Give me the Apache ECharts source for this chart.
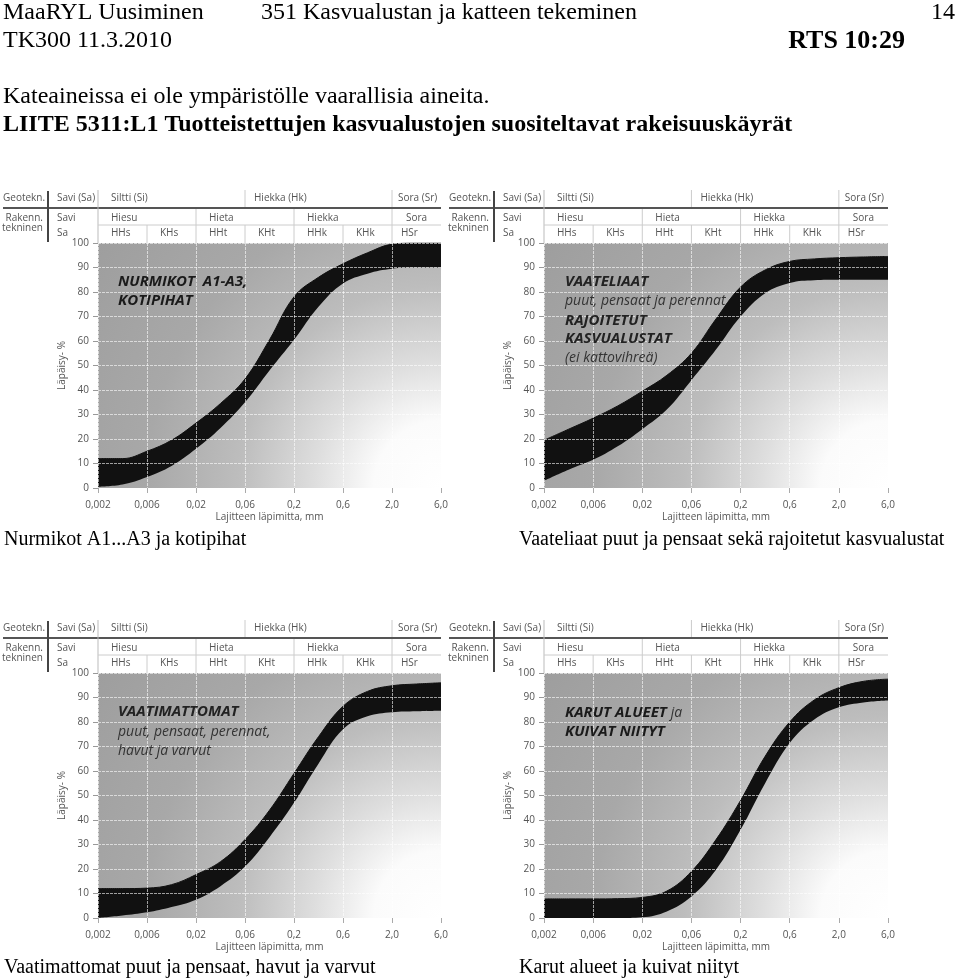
<!DOCTYPE html>
<html><head><meta charset="utf-8">
<script src="https://cdn.jsdelivr.net/npm/echarts@6/dist/echarts.min.js"></script>
<style>html,body{margin:0;padding:0;background:#fff}#c{width:960px;height:979px}</style>
</head><body><div id="c"></div>
<script>
// ---- data ----
const xTickLabels = ['0,002','0,006','0,02','0,06','0,2','0,6','2,0','6,0'];
const xPos = [0,0.5,1,1.5,2,2.5,3,3.5,4,4.5,5,5.5,6,6.5,7];
const p1Upper = [12,12,15,19.5,26.5,34.5,44.5,60.5,78,86,91.5,96,99.5,100,100];
const p1Lower = [0.5,1.4,4.5,9,16,24.5,35,48,60.5,74,83.5,87.5,89.5,90,90];
const p2Upper = [19.5,24,28.5,33.5,39.5,46,55,69,82,89,92.5,93.5,94,94.3,94.5];
const p2Lower = [3,7.5,11.5,17,24,32,44,56.5,70,79.5,83.7,84.8,85,85,85];
const p3Upper = [12,12,12.2,13.6,17.7,23,32,44,59,74,86.4,92.5,94.8,95.5,96];
const p3Lower = [0,1,2.3,4.5,7.5,13,21,33,47,63,77,82.3,84,84.4,84.6];
const p4Upper = [7.8,7.8,7.8,7.9,8.4,11,19,32,48,66,80,89,94,96.6,97.5];
const p4Lower = [0,0,0,0,0.3,2.7,8.8,19.7,36,55,71.4,81,86,88,88.8];
const rowGeo = ['Savi (Sa)','Siltti (Si)','Hiekka (Hk)','Sora (Sr)'];
const rowRak = ['Savi','Hiesu','Hieta','Hiekka','Sora'];
const rowCodes = ['HHs','KHs','HHt','KHt','HHk','KHk','HSr'];
const captions = ['Nurmikot A1...A3 ja kotipihat','Vaateliaat puut ja pensaat sekä rajoitetut kasvualustat','Vaatimattomat puut ja pensaat, havut ja varvut','Karut alueet ja kuivat niityt'];

const panels = [
  {L:98, T:243, W:343, H:245, up:p1Upper, lo:p1Lower},
  {L:544, T:243, W:344, H:245, up:p2Upper, lo:p2Lower},
  {L:98, T:673, W:343, H:245, up:p3Upper, lo:p3Lower},
  {L:544, T:673, W:344, H:245, up:p4Upper, lo:p4Lower}
];

const SANS = '"Open Sans", "Noto Sans", sans-serif';
const SERIF = '"Liberation Serif", "Times New Roman", serif';

function T(x,y,s,opt){
  opt = opt||{};
  return {type:'text', x:x, y:y, silent:true, z:10, style:{text:s, fill:opt.fill||'#555',
    font:opt.font||('10px '+SANS), align:opt.align||'left', textAlign:opt.align||'left',
    verticalAlign:'middle', textVerticalAlign:'middle', rich:opt.rich}};
}
function Ln(x1,y1,x2,y2,stroke,w){
  return {type:'line', silent:true, z:10, shape:{x1:x1,y1:y1,x2:x2,y2:y2}, style:{stroke:stroke, lineWidth:w}};
}
function header(p){
  const L=p.L, Tp=p.T, s=p.W/7, g=[];
  g.push(T(L-95, Tp-45, 'Geotekn.'));
  g.push(T(L-41, Tp-45, rowGeo[0]));
  g.push(T(L+13, Tp-45, rowGeo[1]));
  g.push(T(L+3*s+9, Tp-45, rowGeo[2]));
  g.push(T(L+6*s+6, Tp-45, rowGeo[3]));
  g.push(Ln(L-95, Tp-35, L+p.W, Tp-35, '#555', 2));
  g.push(Ln(L-50, Tp-52, L-50, Tp-1, '#444', 2));
  g.push(Ln(L, Tp-53, L, Tp, '#bbb', 1));
  g.push(T(L-55, Tp-25, 'Rakenn.', {align:'right'}));
  g.push(T(L-55, Tp-15, 'tekninen', {align:'right'}));
  g.push(T(L-41, Tp-25, rowRak[0]));
  g.push(T(L-41, Tp-10, 'Sa'));
  g.push(T(L+13, Tp-25, rowRak[1]));
  g.push(T(L+2*s+13, Tp-25, rowRak[2]));
  g.push(T(L+4*s+13, Tp-25, rowRak[3]));
  g.push(T(L+6.5*s, Tp-25, rowRak[4], {align:'center'}));
  [3,6].forEach(k=>g.push(Ln(L+k*s, Tp-53, L+k*s, Tp-36, '#ccc', 1)));
  [2,4,6].forEach(k=>g.push(Ln(L+k*s, Tp-34, L+k*s, Tp-18, '#ccc', 1)));
  [1,2,3,4,5,6].forEach(k=>g.push(Ln(L+k*s, Tp-18, L+k*s, Tp, '#ccc', 1)));
  g.push(Ln(L, Tp-18, L+p.W, Tp-18, '#ccc', 1));
  rowCodes.forEach((c,k)=>g.push(T(L+k*s+(k===6?9:13), Tp-10, c)));
  return g;
}

// global-coordinate gradient so background and the area under the lower curve match exactly
const bg = (p) => new echarts.graphic.RadialGradient(p.L+p.W, p.T+p.H, 1.72*p.H, [
  {offset:0, color:'#ffffff'}, {offset:0.16, color:'#fbfbfb'}, {offset:0.3, color:'#dedede'},
  {offset:0.48, color:'#bdbdbd'}, {offset:0.7, color:'#a8a8a8'}, {offset:1, color:'#9e9e9e'}], true);

const grid=[], xAxis=[], yAxis=[], series=[];
let graphic = [];
panels.forEach((p,i)=>{
  grid.push({left:p.L, top:p.T, width:p.W, height:p.H, show:true, borderWidth:0, backgroundColor:bg(p)});
  xAxis.push({type:'value', gridIndex:i, min:0, max:7, interval:1, z:3,
    name:'Lajitteen läpimitta, mm', nameLocation:'middle', nameGap:24,
    nameTextStyle:{fontSize:10, color:'#555', fontFamily:SANS},
    axisLine:{show:false}, axisTick:{show:true, length:5, lineStyle:{color:'#aaa'}},
    axisLabel:{fontSize:10, color:'#555', fontFamily:SANS, margin:12, formatter:v=>xTickLabels[Math.round(v)]},
    splitLine:{show:true, lineStyle:{color:'rgba(255,255,255,0.6)', type:[3,1]}}});
  yAxis.push({type:'value', gridIndex:i, min:0, max:100, interval:10, z:3,
    name:'Läpäisy- %', nameLocation:'middle', nameGap:31, nameRotate:90,
    nameTextStyle:{fontSize:10, color:'#555', fontFamily:SANS},
    axisLine:{show:false}, axisTick:{show:true, length:5, lineStyle:{color:'#999'}},
    axisLabel:{fontSize:10, color:'#555', fontFamily:SANS, margin:9},
    splitLine:{show:true, lineStyle:{color:'rgba(255,255,255,0.6)', type:[3,1]}}});
  // upper curve: black area down to 0
  series.push({type:'line', xAxisIndex:i, yAxisIndex:i, z:1, symbol:'none', smooth:0.4,
    lineStyle:{width:1, color:'#111'}, areaStyle:{color:'#111', opacity:1},
    data:xPos.map((x,j)=>[x,p.up[j]])});
  // lower curve: background-coloured area covers the black below the band
  series.push({type:'line', xAxisIndex:i, yAxisIndex:i, z:1, symbol:'none', smooth:0.4,
    lineStyle:{width:0, opacity:0}, areaStyle:{color:bg(p), opacity:1},
    data:xPos.map((x,j)=>[x,p.lo[j]])});
  graphic = graphic.concat(header(p));
});

// page texts
graphic.push(T(3, 13, 'MaaRYL Uusiminen', {font:'24px '+SERIF, fill:'#000'}));
graphic.push(T(261, 13, '351 Kasvualustan ja katteen tekeminen', {font:'24px '+SERIF, fill:'#000'}));
graphic.push(T(955, 13, '14', {font:'24px '+SERIF, fill:'#000', align:'right'}));
graphic.push(T(3, 41, 'TK300 11.3.2010', {font:'24px '+SERIF, fill:'#000'}));
graphic.push(T(905, 41, 'RTS 10:29', {font:'bold 26px '+SERIF, fill:'#000', align:'right'}));
graphic.push(T(3, 97, 'Kateaineissa ei ole ympäristölle vaarallisia aineita.', {font:'24px '+SERIF, fill:'#000'}));
graphic.push(T(3, 125, 'LIITE 5311:L1 Tuotteistettujen kasvualustojen suositeltavat rakeisuuskäyrät', {font:'bold 24px '+SERIF, fill:'#000'}));
graphic.push(T(4, 540, captions[0], {font:'20px '+SERIF, fill:'#000'}));
graphic.push(T(519, 540, captions[1], {font:'20px '+SERIF, fill:'#000'}));
graphic.push(T(4, 968, captions[2], {font:'20px '+SERIF, fill:'#000'}));
graphic.push(T(519, 968, captions[3], {font:'20px '+SERIF, fill:'#000'}));

// in-chart labels
const BI = 'italic bold 15px '+SANS, IT = 'italic 14px '+SANS;
graphic.push(T(118, 282, 'NURMIKOT  A1-A3,', {font:BI, fill:'#1a1a1a'}));
graphic.push(T(118, 301, 'KOTIPIHAT', {font:BI, fill:'#1a1a1a'}));
graphic.push(T(565, 282, 'VAATELIAAT', {font:BI, fill:'#222'}));
graphic.push(T(565, 301, 'puut, pensaat ja perennat', {font:IT, fill:'#333'}));
graphic.push(T(565, 321, 'RAJOITETUT', {font:BI, fill:'#222'}));
graphic.push(T(565, 339, 'KASVUALUSTAT', {font:BI, fill:'#222'}));
graphic.push(T(565, 358, '(ei kattovihreä)', {font:IT, fill:'#333'}));
graphic.push(T(118, 712, 'VAATIMATTOMAT', {font:BI, fill:'#222'}));
graphic.push(T(118, 732, 'puut, pensaat, perennat,', {font:IT, fill:'#333'}));
graphic.push(T(118, 751, 'havut ja varvut', {font:IT, fill:'#333'}));
graphic.push(T(565, 713, '{b|KARUT ALUEET} {i|ja}', {font:BI, fill:'#222',
  rich:{b:{font:BI, fill:'#1a1a1a', color:'#1a1a1a'}, i:{font:IT, fill:'#333', color:'#333'}}}));
graphic.push(T(565, 732, 'KUIVAT NIITYT', {font:BI, fill:'#1a1a1a'}));

const chart = echarts.init(document.getElementById('c'), null, {renderer:'canvas'});
chart.setOption({backgroundColor:'#fff', animation:false, grid, xAxis, yAxis, series, graphic});
</script></body></html>
